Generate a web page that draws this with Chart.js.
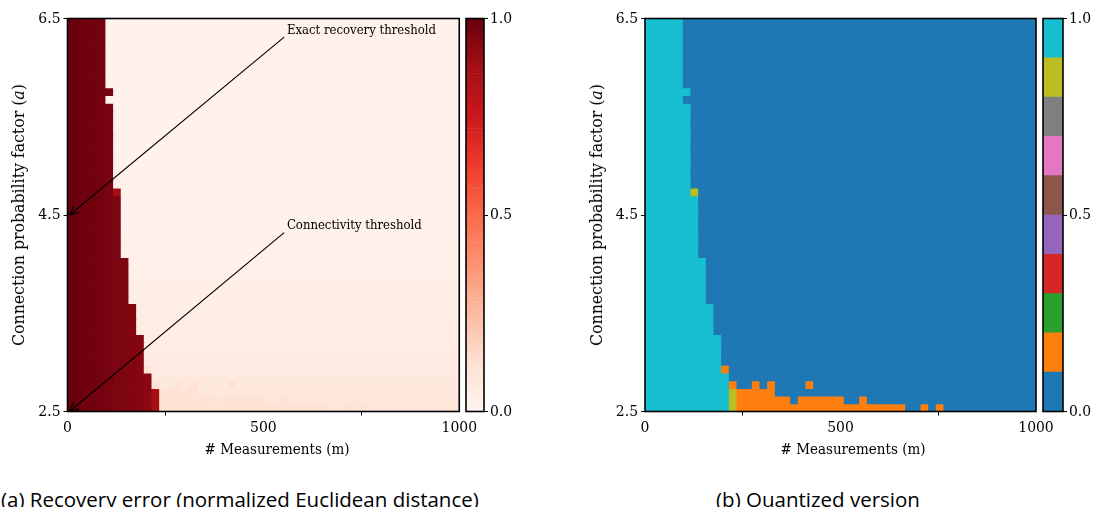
<!DOCTYPE html>
<html>
<head>
<meta charset="utf-8">
<script src="https://cdn.jsdelivr.net/npm/chart.js@4.4.1/dist/chart.umd.min.js"></script>
<style>
  body { margin: 0; width: 1097px; height: 507px; background: #fff; position: relative; overflow: hidden; }
  canvas { position: absolute; top: 0; }
  .serif { position: absolute; font-family: 'DejaVu Serif Condensed', 'DejaVu Serif', serif; font-size: 15px; color: #000; white-space: nowrap; }
  .ylab { font-size: 17.5px; }
  .cap { position: absolute; font-family: 'Open Sans', sans-serif; font-size: 20.5px; color: #000; white-space: nowrap; top: 485px; line-height: 28px; }
</style>
</head>
<body>
<canvas id="errMap" width="480" height="445" style="left:0"></canvas>
<canvas id="errBar" width="80" height="445" style="left:440px"></canvas>
<canvas id="quantMap" width="480" height="445" style="left:577px"></canvas>
<canvas id="quantBar" width="80" height="445" style="left:1017px"></canvas>

<div class="serif ylab" style="left:18px;top:215px;transform:translate(-50%,-50%) rotate(-90deg)">Connection probability factor (<i>a</i>)</div>
<div class="serif ylab" style="left:596px;top:215px;transform:translate(-50%,-50%) rotate(-90deg)">Connection probability factor (<i>a</i>)</div>
<div class="serif" style="left:277px;top:449px;transform:translate(-50%,-50%)"># Measurements (m)</div>
<div class="serif" style="left:853px;top:449px;transform:translate(-50%,-50%)"># Measurements (m)</div>
<div class="cap" style="left:1px">(a) Recovery error (normalized Euclidean distance)</div>
<div class="cap" style="left:818px;transform:translateX(-50%)">(b) Quantized version</div>

<script>
// grid: number of measurements m (columns) and connection factor a (rows, 6.5 at the top)
const mValues = Array.from({length: 51}, (_, i) => i * 20)
const aValues = Array.from({length: 51}, (_, i) => +(6.5 - i * 0.08).toFixed(2))
const xTicks = [0, 500, 1000]
const yTicks = [2.5, 4.5, 6.5]
const barTicks = [0, 0.5, 1]

// per row (a = 6.5 down to 2.5): how many columns from m = 0 have error in 0.9 - 1.0
const exactCols = [5,5,5,5,5,5,5,5,5,6,5,6,6,6,6,6,6,6,6,6,6,6,6,7,7,7,7,7,7,7,7,8,8,8,8,8,8,9,9,9,9,10,10,10,10,10,11,11,11,11,11]
// error inside that band, by column
const darkByCol = [1.0, 0.99, 0.984, 0.978, 0.972, 0.966, 0.96, 0.954, 0.947, 0.94, 0.93, 0.915]
// error right of the edge, by row (a = 6.5 down to 2.5)
const lightByRow = [
  0.015,0.015,0.015,0.015,0.015,0.015,0.015,0.015,0.015,0.015,
  0.018,0.018,0.018,0.018,0.018,0.018,0.018,0.018,0.018,0.018,
  0.022,0.022,0.022,0.022,0.022,0.022,0.022,0.022,
  0.03,0.03,0.03,0.03,0.03,0.03,
  0.04,0.04,0.04,0.04,0.04,
  0.05,0.05,0.05,0.05,
  0.06,0.06,0.06,
  0.07,0.07,
  0.08,
  0.09,0.09]
// cells with error 0.8 - 0.9: [row, col]
const bandHigh = [[22, 6], [48, 11], [49, 11], [50, 11]]
const bandHighValue = 0.87
// runs with error 0.1 - 0.2: [row, firstCol, lastCol]
const bandLow = [[45,10,10],[47,11,11],[47,14,14],[47,16,16],[47,21,21],[48,12,16],[49,12,18],[49,20,25],[49,28,28],[50,12,33],[50,36,36],[50,38,38]]
const bandLowValue = 0.115

const notes = [
    {text: 'Exact recovery threshold', at: [560, 6.373], from: [553, 6.31], to: [0, 4.5]},
    {text: 'Connectivity threshold', at: [560, 4.388], from: [553, 4.32], to: [0, 2.5]},
]

const redsStops = ['#fff5f0','#fee0d2','#fcbba1','#fc9272','#fb6a4a','#ef3b2c','#cb181d','#a50f15','#67000d']
const tab10 = ['#1f77b4','#ff7f0e','#2ca02c','#d62728','#9467bd','#8c564b','#e377c2','#7f7f7f','#bcbd22','#17becf']

const serif = "'DejaVu Serif Condensed', 'DejaVu Serif', serif"

function hex(h){
    return [1, 3, 5].map(i => parseInt(h.slice(i, i + 2), 16))
}

function reds(v){
    let t = Math.max(0, Math.min(1, v)) * 8
    let i = Math.min(7, Math.floor(t))
    let f = t - i
    let a = hex(redsStops[i]), b = hex(redsStops[i + 1])
    return 'rgb(' + a.map((x, k) => Math.round(x + (b[k] - x) * f)).join(',') + ')'
}

function quantized(v){
    return tab10[Math.min(9, Math.floor(v * 10 + 1e-9))]
}

function errorGrid(){
    let grid = aValues.map((a, r) => mValues.map((m, c) => c < exactCols[r] ? darkByCol[c] : lightByRow[r]))
    bandHigh.forEach(([r, c]) => grid[r][c] = bandHighValue)
    bandLow.forEach(([r, c0, c1]) => {
        for (let c = c0; c <= c1; c++) grid[r][c] = bandLowValue
    })
    return grid
}

// imshow-like cells spanning the full axis ranges
function heatDatasets(grid, colorOf){
    let nr = aValues.length, nc = mValues.length
    let dm = (xTicks[2] - xTicks[0]) / nc
    let da = (yTicks[2] - yTicks[0]) / nr
    return grid.map((row, r) => ({
        data: row.map((v, c) => ({x: xTicks[0] + (c + 0.5) * dm, y: [yTicks[2] - (r + 1) * da, yTicks[2] - r * da]})),
        backgroundColor: row.map(colorOf),
        borderWidth: 0,
        inflateAmount: 0.5,
        grouped: false,
        barPercentage: 1,
        categoryPercentage: 1,
    }))
}

const frame = {
    id: 'frame',
    afterDatasetsDraw(chart){
        const {ctx, chartArea: a} = chart
        ctx.save()
        ctx.strokeStyle = '#000'
        ctx.lineWidth = 1.6
        ctx.strokeRect(a.left, a.top, a.right - a.left, a.bottom - a.top)
        ctx.restore()
    }
}

const arrows = {
    id: 'arrows',
    afterDatasetsDraw(chart){
        const {ctx, scales: {x, y}} = chart
        ctx.save()
        ctx.strokeStyle = '#000'
        ctx.fillStyle = '#000'
        ctx.lineWidth = 1.1
        ctx.font = '13px ' + serif
        ctx.textBaseline = 'middle'
        notes.forEach(n => {
            let x0 = x.getPixelForValue(n.from[0]), y0 = y.getPixelForValue(n.from[1])
            let x1 = x.getPixelForValue(n.to[0]) + 2, y1 = y.getPixelForValue(n.to[1])
            ctx.beginPath()
            ctx.moveTo(x0, y0)
            ctx.lineTo(x1, y1)
            let ang = Math.atan2(y0 - y1, x0 - x1)
            for (let s of [-0.42, 0.42]) {
                ctx.moveTo(x1, y1)
                ctx.lineTo(x1 + 10 * Math.cos(ang + s), y1 + 10 * Math.sin(ang + s))
            }
            ctx.stroke()
            ctx.fillText(n.text, x.getPixelForValue(n.at[0]), y.getPixelForValue(n.at[1]))
        })
        ctx.restore()
    }
}

function tickFont(){
    return {family: serif, size: 15.5}
}

function heatChart(id, grid, colorOf, yWidth, padRight, extra){
    new Chart(document.getElementById(id), {
        type: 'bar',
        data: {datasets: heatDatasets(grid, colorOf)},
        options: {
            responsive: false,
            animation: false,
            normalized: true,
            layout: {padding: {left: 0, top: 18.5, right: padRight, bottom: 0}},
            plugins: {legend: {display: false}, tooltip: {enabled: false}},
            scales: {
                x: {
                    type: 'linear', min: 0, max: 1000, offset: false,
                    afterBuildTicks: s => { s.ticks = xTicks.map(v => ({value: v})) },
                    afterFit: s => { s.height = 33.5 },
                    ticks: {font: tickFont(), color: '#000', padding: 3, maxRotation: 0, autoSkip: false, callback: v => String(v)},
                    grid: {drawOnChartArea: false, tickLength: 4, tickColor: '#000'},
                    border: {display: false},
                },
                y: {
                    type: 'linear', min: 2.5, max: 6.5,
                    afterBuildTicks: s => { s.ticks = yTicks.map(v => ({value: v})) },
                    afterFit: s => { s.width = yWidth },
                    ticks: {font: tickFont(), color: '#000', padding: 3, autoSkip: false, callback: v => v.toFixed(1)},
                    grid: {drawOnChartArea: false, tickLength: 4, tickColor: '#000'},
                    border: {display: false},
                }
            }
        },
        plugins: [frame].concat(extra)
    })
}

function colorBar(id, segments, yWidth){
    new Chart(document.getElementById(id), {
        type: 'bar',
        data: {
            labels: ['bar'],
            datasets: segments.map(s => ({
                data: [[s.lo, s.hi]],
                backgroundColor: s.color,
                borderWidth: 0,
                grouped: false,
                barPercentage: 1,
                categoryPercentage: 1,
            }))
        },
        options: {
            responsive: false,
            animation: false,
            layout: {padding: {left: 26, top: 18.5, right: 0, bottom: 33.5}},
            plugins: {legend: {display: false}, tooltip: {enabled: false}},
            scales: {
                x: {display: false},
                y: {
                    position: 'right', min: 0, max: 1,
                    afterBuildTicks: s => { s.ticks = barTicks.map(v => ({value: v})) },
                    afterFit: s => { s.width = yWidth },
                    ticks: {font: tickFont(), color: '#000', padding: 2, autoSkip: false, callback: v => v.toFixed(1)},
                    grid: {drawOnChartArea: false, tickLength: 4, tickColor: '#000'},
                    border: {display: false},
                }
            }
        },
        plugins: [frame]
    })
}

let grid = errorGrid()
heatChart('errMap', grid, reds, 67.5, 20, [arrows])
heatChart('quantMap', grid, quantized, 68, 21, [])

let redSegs = Array.from({length: 100}, (_, k) => ({lo: k / 100, hi: (k + 1) / 100, color: reds((k + 0.5) / 100)}))
let tabSegs = tab10.map((c, k) => ({lo: k / 10, hi: (k + 1) / 10, color: c}))
colorBar('errBar', redSegs, 36)
colorBar('quantBar', tabSegs, 34)
</script>
</body>
</html>
